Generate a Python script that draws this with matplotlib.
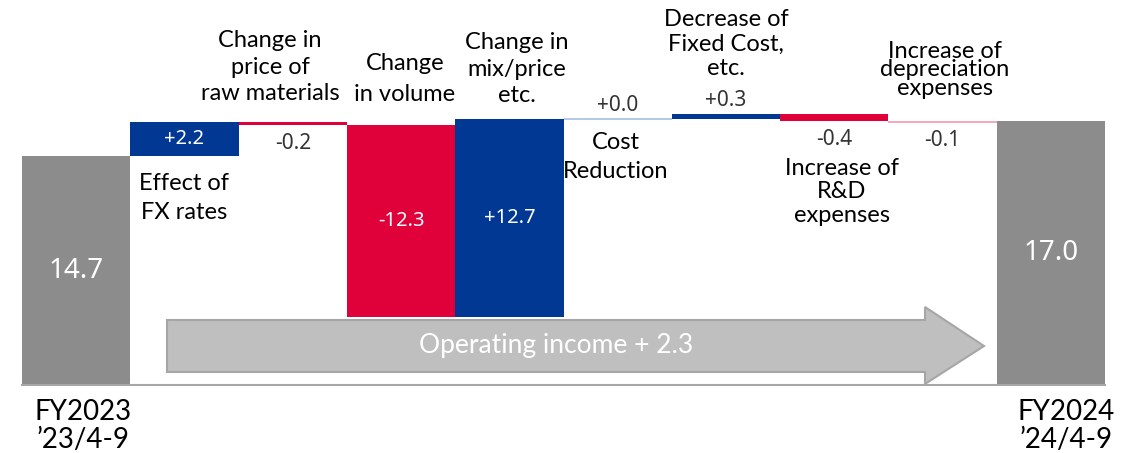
import numpy as np
import matplotlib
matplotlib.use("Agg")
import matplotlib.pyplot as plt
from matplotlib.patches import Polygon

# operating income bridge, FY2023 -> FY2024 (first half)
start_value = 14.7
end_value = 17.0
steps = [2.2, -0.2, -12.3, 12.7, 0.0, 0.3, -0.4, -0.1]
step_texts = ["+2.2", "-0.2", "-12.3", "+12.7", "+0.0", "+0.3", "-0.4", "-0.1"]
step_names = ["Effect of\nFX rates",
              "Change in\nprice of\nraw materials",
              "Change\nin volume",
              "Change in\nmix/price\netc.",
              "Cost\nReduction",
              "Decrease of\nFixed Cost,\netc.",
              "Increase of\nR&D\nexpenses",
              "Increase of\ndepreciation\nexpenses"]
period_names = ["FY2023\n\u201923/4-9", "FY2024\n\u201924/4-9"]
arrow_text = "Operating income + 2.3"

BLUE = "#003893"
RED = "#E0003A"
GREY = "#8C8C8C"
LIGHT_BLUE = "#A9BCE2"
LIGHT_RED = "#F39AAE"

NARROW = ["Lato", "DejaVu Sans"]
VALFONT = ["Noto Sans", "DejaVu Sans"]

W, H = 1137, 453
PX = 15.55          # pixels per unit
Y0 = 385            # pixel row of zero
X0, BW = 22, 108.3  # left edge, bar width in pixels

fig = plt.figure(figsize=(W / 100, H / 100), dpi=100)
ax = fig.add_axes([X0 / W, (H - Y0) / H, 10 * BW / W, Y0 / H])
ax.set_xlim(-0.5, 9.5)
ax.set_ylim(0, Y0 / PX)
for s in ["top", "right", "left"]:
    ax.spines[s].set_visible(False)
ax.spines["bottom"].set_color("#A6A6A6")
ax.spines["bottom"].set_linewidth(1.5)
ax.set_xticks([])
ax.set_yticks([])


def py(y_px):
    return (Y0 - y_px) / PX


def px_x(x_px):
    return (x_px - X0) / BW - 0.5


# totals
ax.bar([0, 9], [start_value, end_value], width=1.0, color=GREY, linewidth=0)
ax.text(0, start_value / 2, f"{start_value:.1f}", color="white", ha="center",
        va="center", fontsize=20, family=VALFONT)
ax.text(9, end_value / 2, f"{end_value:.1f}", color="white", ha="center",
        va="center", fontsize=20, family=VALFONT)

# steps
level = start_value
for i, (v, t) in enumerate(zip(steps, step_texts), start=1):
    lo, hi = min(level, level + v), max(level, level + v)
    if abs(v) < 0.15:
        # tiny steps show up as a thin pale line
        ax.plot([i - 0.5, i + 0.5], [lo, lo], lw=1.2, solid_capstyle="butt",
                color=LIGHT_BLUE if v >= 0 else LIGHT_RED)
    else:
        ax.bar(i, hi - lo, bottom=lo, width=1.0,
               color=BLUE if v > 0 else RED, linewidth=0)
    if abs(v) >= 1:
        ax.text(i, (lo + hi) / 2, t, color="white", ha="center", va="center",
                fontsize=14.5, family=VALFONT)
    elif v >= 0:
        ax.annotate(t, (i, hi), xytext=(0, 3), textcoords="offset pixels",
                    ha="center", va="bottom", fontsize=15, color="#333333",
                    family=VALFONT)
    else:
        ax.annotate(t, (i, lo), xytext=(0, -8), textcoords="offset pixels",
                    ha="center", va="top", fontsize=15, color="#333333",
                    family=VALFONT)
    level += v

# step captions: (x pixel, y pixel, line spacing)
caption_pos = [(184, 198, 1.5), (270, 67, 1.31), (405, 79, 1.55),
               (517, 69, 1.3), (616, 157, 1.45), (726, 44, 1.22),
               (842, 192, 1.13), (945, 70, 0.84)]
for name, (xp, yp, ls) in zip(step_names, caption_pos):
    ax.text(px_x(xp), py(yp), name, ha="center", va="center",
            multialignment="center", fontsize=17, family=NARROW,
            linespacing=ls, color="black")

# period labels under the totals
for name, xp in zip(period_names, [83, 1066]):
    ax.text(px_x(xp), py(426), name, ha="center", va="center",
            multialignment="center", fontsize=20, family=NARROW,
            linespacing=1.05, color="black", clip_on=False)

# big arrow
arrow = [(167, 320), (925, 320), (925, 307), (984, 346), (925, 384),
         (925, 372), (167, 372)]
ax.add_patch(Polygon([(px_x(x), py(y)) for x, y in arrow], closed=True,
                     facecolor="#BFBFBF", edgecolor="#A6A6A6", lw=1.5,
                     zorder=3))
ax.text(px_x(556), py(346), arrow_text, color="white", ha="center",
        va="center", fontsize=19, family=NARROW, zorder=4)

fig.savefig("out.png", dpi=100)
